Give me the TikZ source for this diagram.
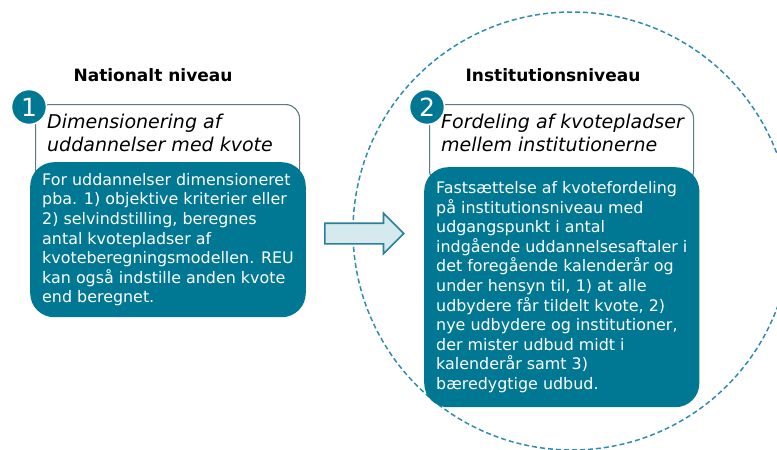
\documentclass[tikz,border=0pt]{standalone}
\usepackage{fontspec}
\setmainfont{DejaVu Sans}
\usetikzlibrary{positioning, shapes.arrows}

\definecolor{petrol}{HTML}{007893}
\definecolor{ringblue}{HTML}{2F8CAE}
\definecolor{framegray}{HTML}{5E7A84}
\definecolor{arrowfill}{HTML}{D5E9EF}
\definecolor{arrowline}{HTML}{2A7F9A}

\tikzset{
  title/.style={font=\bfseries\fontsize{17}{20}\selectfont, text=black},
  frame/.style={draw=framegray, fill=white, line width=1.1pt, rounded corners=14pt,
    anchor=north west, minimum width=264pt},
  heading/.style={font=\itshape\fontsize{19}{23}\selectfont, align=left, inner sep=0pt},
  infobox/.style={fill=petrol, text=white, rounded corners=24pt, anchor=north west,
    align=left, inner xsep=12pt, font=\fontsize{15.9}{19.6}\selectfont},
  badge/.style={circle, fill=petrol, draw=white, line width=1.5pt, minimum size=35pt,
    inner sep=0pt, text=white, font=\fontsize{25}{25}\selectfont}
}

\begin{document}
\begin{tikzpicture}[x=1pt, y=-1pt]
  \useasboundingbox (0,0) rectangle (777,450);

  % Dashed ring round the institution level
  \draw[ringblue, line width=1.5pt, dash pattern=on 5pt off 3pt] (572,231) circle (219pt);

  % Level titles
  \node[title] (natlabel) at (153,75) {Nationalt niveau};
  \node[title] (instlabel) at (553,75) {Institutionsniveau};

  % Step 1
  \node[frame, minimum height=78pt] (dimframe) at (35,104) {};
  \node[heading, below right=10pt and 12pt of dimframe.north west] (dimhead)
    {Dimensionering af\\uddannelser med kvote};
  \node[infobox, minimum width=274pt, minimum height=155pt] (dimbox) at (30,162)
    {For uddannelser dimensioneret\\pba. 1) objektive kriterier eller\\2) selvindstilling, beregnes\\antal kvotepladser af\\kvoteberegningsmodellen. REU\\kan også indstille anden kvote\\end beregnet.};
  \node[badge] (num1) at (29,107) {1};

  % Step 2
  \node[frame, minimum height=80pt] (fordframe) at (429,104) {};
  \node[heading, below right=10pt and 12pt of fordframe.north west] (fordhead)
    {Fordeling af kvotepladser\\mellem institutionerne};
  \node[infobox, minimum width=275pt, minimum height=240pt] (fordbox) at (424,167)
    {Fastsættelse af kvotefordeling\\på institutionsniveau med\\udgangspunkt i antal\\indgående uddannelsesaftaler i\\det foregående kalenderår og\\under hensyn til, 1) at alle\\udbydere får tildelt kvote, 2)\\nye udbydere og institutioner,\\der mister udbud midt i\\kalenderår samt 3)\\bæredygtige udbud.};
  \node[badge] (num2) at (427,107) {2};

  % Block arrow between the levels
  \node[single arrow, draw=arrowline, fill=arrowfill, line width=1.6pt, inner xsep=0pt, inner ysep=9.5pt,
    minimum height=79pt, minimum width=39pt, single arrow head extend=10pt, anchor=west] (levelarrow) at (324,233.5) {};

\end{tikzpicture}
\end{document}
